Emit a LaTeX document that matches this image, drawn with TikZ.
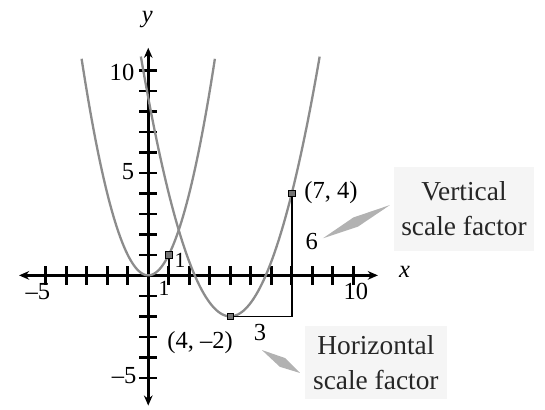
\documentclass[tikz,border=0pt]{standalone}
\usepackage{fontspec}
\setmainfont{Liberation Serif}
\usetikzlibrary{arrows.meta,positioning,calc}

\begin{document}
\begin{tikzpicture}[
    x=0.5cm, y=0.5cm,
    font=\fontsize{17}{20}\selectfont,
    axis/.style={line width=1.8pt, {Stealth[length=7pt,width=6pt]}-{Stealth[length=7pt,width=6pt]}},
    tickmark/.style={line width=1.8pt},
    curve/.style={black!45, line width=1.6pt},
    scaleline/.style={line width=1.2pt},
    marker/.style={draw, fill=black!55, minimum size=4.5pt, inner sep=0pt},
    note/.style={fill=black!4, align=center, font=\fontsize{19}{24}\selectfont, text=black!85},
    wedge/.style={fill=black!30}
  ]
    \useasboundingbox (-7.23,-6.52) rectangle (19.35,13.43);

    % axes
    \coordinate (xmin) at (-6.3,0);
    \coordinate (xmax) at (11.2,0);
    \coordinate (ymin) at (0,-6.35);
    \coordinate (ymax) at (0,11.1);
    \draw[axis] (xmin) -- (xmax);
    \draw[axis] (ymin) -- (ymax);
    \foreach \i in {-5,...,-1,1,2,...,10} {
      \draw[tickmark] (\i,-0.45) -- (\i,0.45);
      \draw[tickmark] (-0.45,\i) -- (0.45,\i);
    }
    \node (xname) at (12.5,0.15) {\itshape x};
    \node (yname) at (-0.05,12.5) {\itshape y};
    \node (xneg) at (-5.38,-0.77) {--5};
    \node (xten) at (10.12,-0.77) {10};
    \node (yfive) at (-0.99,5.04) {5};
    \node (yten) at (-1.28,9.92) {10};
    \node (yneg) at (-1.18,-4.9) {--5};

    % parabolas
    \draw[curve] plot[domain=-3.25:3.25, samples=80] (\x,{\x*\x});
    \draw[curve] plot[domain=-0.36:8.36, samples=100] (\x,{2/3*(\x-4)^2-2});

    % unit steps
    \coordinate (orig) at (0,0);
    \coordinate (unitx) at (1,0);
    \coordinate (unity) at (1,1);
    \draw[scaleline] (unitx) -- (unity);
    \node[marker] (munit) at (unity) {};
    \node[font=\fontsize{15}{18}\selectfont] (onex) at (0.77,-0.62) {1};
    \node[font=\fontsize{15}{18}\selectfont] (oney) at (1.55,0.75) {1};

    % scaled steps
    \coordinate (vtx) at (4,-2);
    \coordinate (crn) at (7,-2);
    \coordinate (pt) at (7,4);
    \draw[scaleline] (pt) -- (crn) -- (vtx);
    \node[marker] (mvtx) at (vtx) {};
    \node[marker] (mpt) at (pt) {};
    \node (lpt) at (8.91,4.06) {(7, 4)};
    \node (lvtx) at (2.53,-3.3) {(4, --2)};
    \node (six) at (7.98,1.67) {6};
    \node (three) at (5.45,-2.81) {3};

    % notes and pointers
    \node[note, minimum width=3.4cm, minimum height=2.05cm] (vnote) at (15.4,3.25) {Vertical\\scale factor};
    \node[note, minimum width=3.45cm, minimum height=1.8cm] (hnote) at (11.1,-4.25) {Horizontal\\scale factor};
    \coordinate (vtip) at (8.52,1.81);
    \coordinate (vtail) at (11.79,3.43);
    \fill[wedge] (vtip) -- ($(vtip)!0.9cm!8:(vtail)$) -- (vtail) -- ($(vtip)!0.9cm!-8:(vtail)$) -- cycle;
    \coordinate (htip) at (5.54,-3.64);
    \coordinate (htail) at (7.4,-4.76);
    \fill[wedge] (htip) -- ($(htip)!0.6cm!12:(htail)$) -- (htail) -- ($(htip)!0.6cm!-12:(htail)$) -- cycle;
\end{tikzpicture}
\end{document}
